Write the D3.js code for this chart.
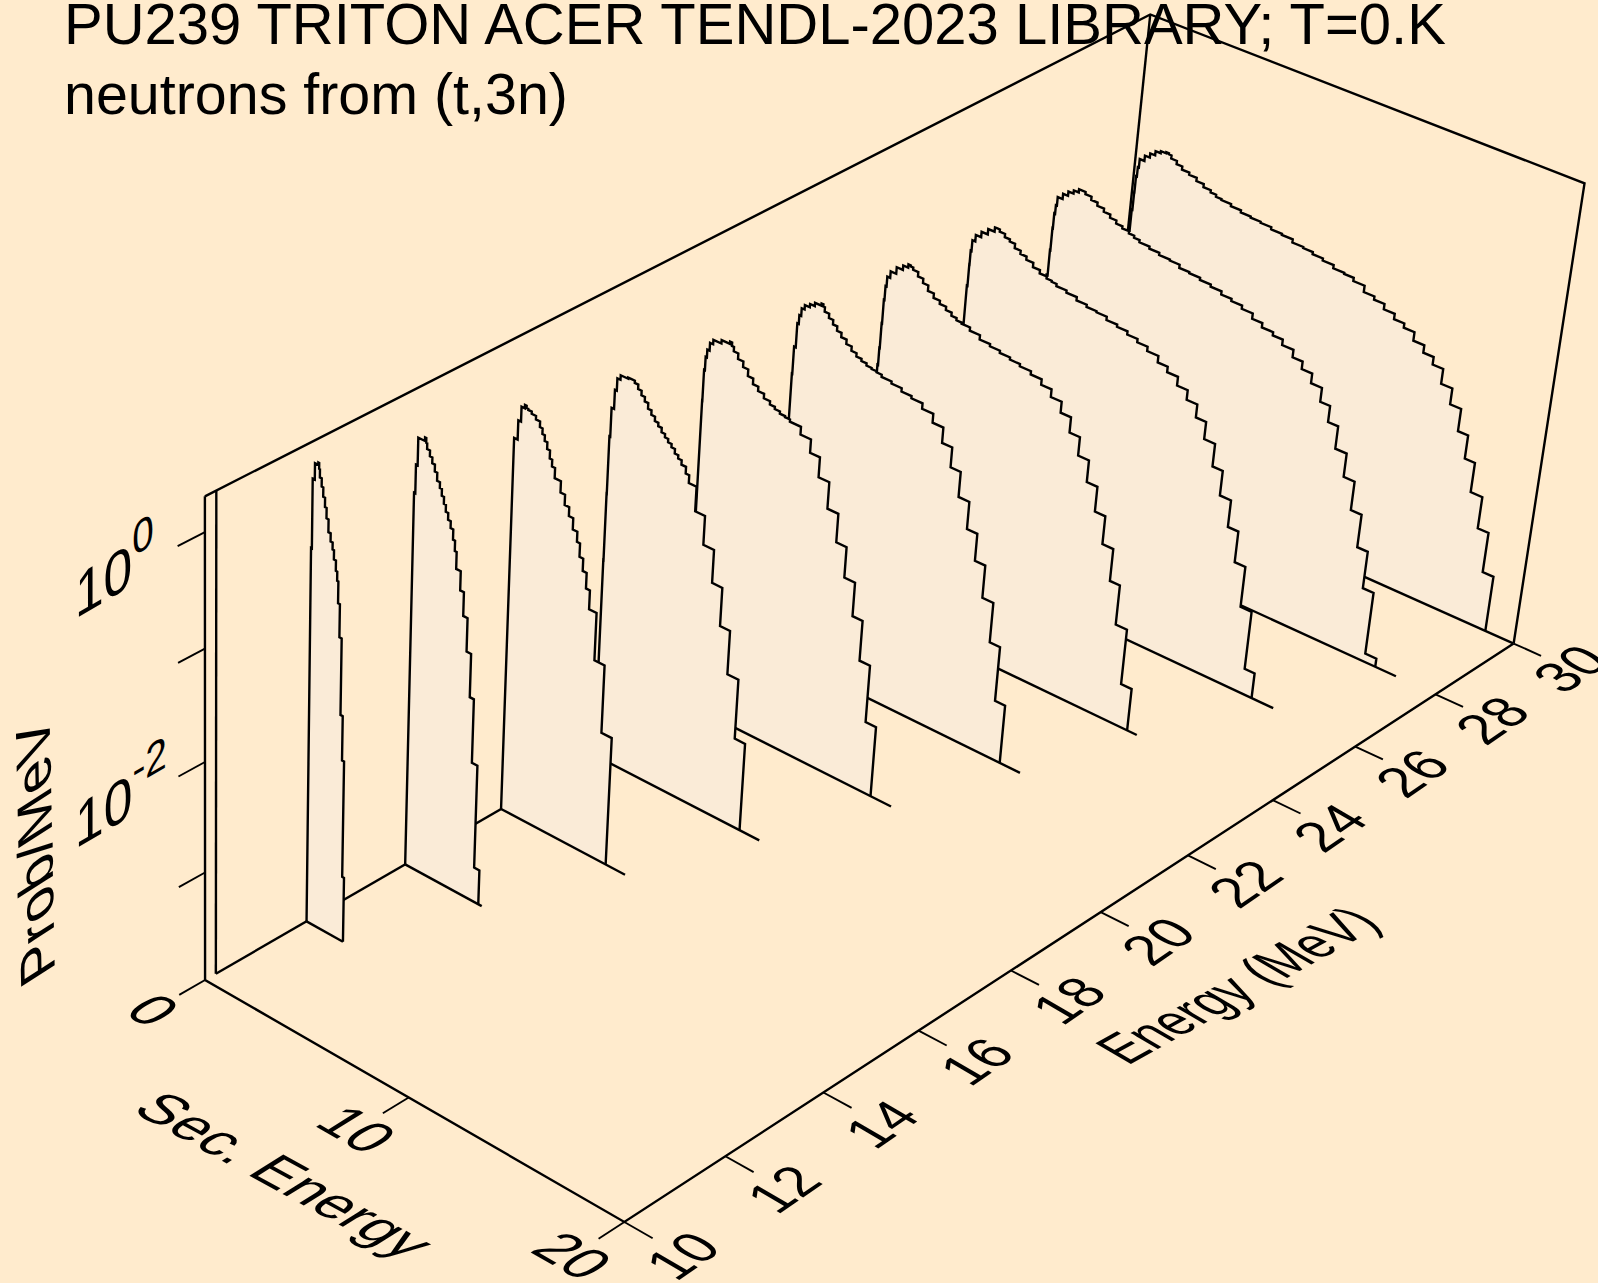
<!DOCTYPE html>
<html><head><meta charset="utf-8"><script src="https://cdn.jsdelivr.net/npm/d3@7"></script>
<style>html,body{margin:0;padding:0;background:#FFEBCD}svg{display:block}</style></head><body>
<script>
// Incident energies and tick labels
const energies=[12,14,16,18,20,22,24,26,28,30];
const eTicks=[10,12,14,16,18,20,22,24,26,28,30];
const esTicks=[0,10,20];
const zTicks=[1,0.1,0.01,0.001];
const zLabels=[[1,'0'],[0.01,'-2']];
// Spectra: upper bin edge of secondary energy (MeV), log10(Prob/MeV)
const es12=[0.00,0.00,0.00,0.04,0.14,0.30,0.34,0.38,0.47,0.55,0.64,0.72,0.82,0.93,1.03,1.10,1.20,1.27,1.33,1.42,1.53,1.64,1.74,1.83];
const lp12=[-3.12,-1.92,-1.24,-0.61,-0.01,0.13,0.15,0.10,0.03,-0.04,-0.12,-0.20,-0.29,-0.40,-0.47,-0.53,-0.61,-0.70,-0.78,-0.97,-1.26,-1.94,-2.34,-3.40];
const es14=[0.00,0.00,0.00,0.00,0.06,0.14,0.46,0.52,0.57,0.71,0.83,0.96,1.08,1.22,1.32,1.43,1.53,1.65,1.78,1.91,2.01,2.10,2.32,2.50,2.71,2.93,3.13,3.40,3.66];
const lp14=[-3.16,-2.40,-1.68,-0.97,-0.60,-0.35,-0.11,-0.08,-0.12,-0.17,-0.22,-0.27,-0.33,-0.40,-0.45,-0.51,-0.57,-0.63,-0.69,-0.75,-0.84,-0.93,-1.08,-1.25,-1.46,-1.76,-2.15,-2.73,-3.68];
const es16=[0.00,0.00,0.00,0.00,0.17,0.30,0.46,0.54,0.62,0.79,1.00,1.20,1.33,1.45,1.58,1.72,1.84,1.99,2.29,2.51,2.73,2.94,3.16,3.31,3.49,3.68,3.87,4.23,4.72,5.22];
const lp16=[-3.22,-2.45,-1.83,-1.23,-0.58,-0.41,-0.28,-0.25,-0.27,-0.28,-0.30,-0.33,-0.38,-0.43,-0.48,-0.54,-0.61,-0.67,-0.76,-0.86,-0.95,-1.03,-1.13,-1.22,-1.34,-1.45,-1.59,-1.76,-2.19,-2.81];
const es18=[0.00,0.00,0.01,0.02,0.06,0.18,0.27,0.42,0.78,0.94,1.10,1.27,1.44,1.61,1.78,1.95,2.13,2.30,2.47,2.64,2.80,2.97,3.14,3.31,3.48,3.70,3.87,4.24,4.71,5.22,5.71,6.19,6.72,7.22];
const lp18=[-3.41,-3.03,-2.15,-1.54,-1.02,-0.76,-0.59,-0.48,-0.44,-0.43,-0.43,-0.45,-0.49,-0.53,-0.57,-0.62,-0.66,-0.70,-0.73,-0.77,-0.80,-0.83,-0.86,-0.90,-0.93,-0.97,-1.03,-1.10,-1.32,-1.58,-1.88,-2.23,-2.63,-3.18];
const es20=[0.00,0.00,0.00,0.01,0.05,0.11,0.22,0.37,0.76,1.16,1.26,1.36,1.58,1.84,2.09,2.35,2.61,2.90,3.20,3.44,3.69,3.94,4.18,4.71,5.21,5.68,6.19,6.71,7.20,7.71,8.19,8.69,9.19];
const lp20=[-2.60,-1.94,-1.49,-1.15,-0.87,-0.75,-0.68,-0.61,-0.57,-0.54,-0.52,-0.55,-0.59,-0.64,-0.69,-0.75,-0.80,-0.84,-0.88,-0.91,-0.93,-0.95,-0.96,-0.98,-1.05,-1.17,-1.35,-1.59,-1.85,-2.13,-2.44,-2.81,-3.34];
const es22=[0.00,0.02,0.10,0.17,0.26,0.40,0.64,0.87,1.18,1.27,1.35,1.57,1.78,1.99,2.21,2.47,2.73,2.98,3.23,3.48,3.73,3.97,4.22,4.70,5.19,5.67,6.20,6.73,7.24,7.72,8.20,8.71,9.20,9.69,10.21,10.70,11.18];
const lp22=[-1.59,-1.35,-1.10,-0.88,-0.80,-0.73,-0.69,-0.66,-0.63,-0.61,-0.63,-0.67,-0.71,-0.75,-0.79,-0.83,-0.87,-0.91,-0.94,-0.96,-0.98,-0.99,-1.00,-1.02,-1.04,-1.07,-1.09,-1.14,-1.22,-1.36,-1.54,-1.77,-2.02,-2.27,-2.57,-2.94,-3.45];
const es24=[0.03,0.05,0.07,0.10,0.15,0.29,0.56,0.86,1.10,1.22,1.34,1.59,1.85,2.11,2.40,2.71,3.02,3.30,3.55,3.80,4.21,4.70,5.20,5.68,6.17,6.65,7.18,7.70,8.19,8.70,9.19,9.68,10.19,10.69,11.18,11.69,12.16,12.69,13.19];
const lp24=[-1.71,-1.55,-1.32,-1.10,-0.97,-0.88,-0.82,-0.76,-0.72,-0.69,-0.70,-0.72,-0.76,-0.80,-0.85,-0.89,-0.92,-0.95,-0.98,-1.00,-1.01,-1.04,-1.08,-1.10,-1.12,-1.14,-1.16,-1.19,-1.24,-1.31,-1.41,-1.55,-1.72,-1.92,-2.15,-2.41,-2.71,-3.08,-3.60];
const es26=[0.04,0.04,0.07,0.08,0.12,0.26,0.52,0.82,1.13,1.25,1.37,1.63,1.88,2.14,2.43,2.73,3.07,3.41,3.75,4.00,4.24,4.73,5.23,5.72,6.20,6.69,7.20,7.70,8.19,8.68,9.21,9.68,10.19,10.69,11.19,11.67,12.18,12.66,13.18,13.67,14.17,14.69,15.16];
const lp26=[-1.76,-1.60,-1.40,-1.20,-1.07,-0.97,-0.91,-0.86,-0.81,-0.77,-0.77,-0.79,-0.82,-0.84,-0.88,-0.91,-0.94,-0.98,-1.01,-1.03,-1.04,-1.06,-1.08,-1.11,-1.13,-1.14,-1.17,-1.19,-1.22,-1.25,-1.29,-1.35,-1.40,-1.48,-1.57,-1.69,-1.85,-2.06,-2.29,-2.54,-2.83,-3.21,-3.76];
const es28=[0.05,0.07,0.09,0.13,0.18,0.42,0.66,0.91,1.15,1.31,1.47,1.77,2.08,2.41,2.73,3.04,3.35,3.68,3.94,4.21,4.70,5.18,5.70,6.17,6.65,7.17,7.69,8.21,8.70,9.21,9.73,10.21,10.74,11.21,11.74,12.21,12.70,13.21,13.67,14.14,14.67,15.18,15.68,16.17,16.67,17.19];
const lp28=[-1.73,-1.49,-1.28,-1.14,-1.06,-0.98,-0.93,-0.89,-0.86,-0.83,-0.83,-0.85,-0.88,-0.91,-0.94,-0.97,-1.00,-1.02,-1.04,-1.06,-1.08,-1.10,-1.12,-1.13,-1.16,-1.17,-1.19,-1.21,-1.24,-1.26,-1.29,-1.34,-1.38,-1.41,-1.46,-1.53,-1.60,-1.69,-1.82,-1.97,-2.18,-2.40,-2.67,-2.98,-3.33,-3.92];
const es30=[0.08,0.11,0.12,0.16,0.21,0.44,0.68,0.92,1.17,1.43,1.56,1.69,1.97,2.25,2.61,2.98,3.34,3.70,3.97,4.24,4.71,5.20,5.68,6.16,6.68,7.20,7.72,8.24,8.70,9.19,9.71,10.23,10.68,11.21,11.71,12.20,12.71,13.19,13.69,14.20,14.68,15.17,15.69,16.20,16.67,17.14,17.68,18.18,18.68];
const lp30=[-1.72,-1.52,-1.35,-1.20,-1.11,-1.03,-0.98,-0.94,-0.90,-0.88,-0.87,-0.88,-0.91,-0.94,-0.97,-0.99,-1.02,-1.05,-1.07,-1.09,-1.10,-1.12,-1.14,-1.15,-1.16,-1.18,-1.19,-1.22,-1.23,-1.25,-1.27,-1.30,-1.31,-1.34,-1.40,-1.43,-1.48,-1.53,-1.57,-1.65,-1.72,-1.79,-1.93,-2.08,-2.29,-2.51,-2.79,-3.09,-3.47];
const tailEs=[1.83,3.83,6.17,8.18,10.18,12.15,13.65,16.18,18.16,19.98];
const esList=[es12,es14,es16,es18,es20,es22,es24,es26,es28,es30];
const lpList=[lp12,lp14,lp16,lp18,lp20,lp22,lp24,lp26,lp28,lp30];
const thresholdE=10.21;
const pMin=1e-4,pMax=2;

const uS=d3.scaleLinear([10,30],[0,1]),vS=d3.scaleLinear([0,20],[0,1]),wS=d3.scaleLog([pMin,pMax],[0,1]);
// Perspective of the 3D box: known box positions fitted to a projective camera
const cal=[[10,0,pMin,205.5,980],[10,20,pMin,623.7,1221],[30,20,pMin,1514,644],[30,0,pMin,1103.5,459.6],[12,20,pMin,725.6,1156.7],[14,20,pMin,823.7,1092.7],[16,20,pMin,918.8,1030.7],[18,20,pMin,1010.6,971],[20,20,pMin,1100.8,912.7],[22,20,pMin,1187.8,855.7],[24,20,pMin,1274,799],[26,20,pMin,1355,746],[28,20,pMin,1435,695],[10,10,pMin,408.7,1096.6],[12,0,pMin,306.5,921],[14,0,pMin,405,865],[16,0,pMin,501,809],[10,0,pMax,204.5,495.5],[30,0,pMax,1151,15],[30,20,pMax,1584,183],[10,0,1e-3,205,873],[10,0,1e-2,205,762.5],[10,0,1e-1,205,649],[10,0,1,205,532]];
function solve(A,b){const n=b.length,M=A.map((r,i)=>[...r,b[i]]);for(let c=0;c<n;c++){let p=c;for(let r=c+1;r<n;r++)if(Math.abs(M[r][c])>Math.abs(M[p][c]))p=r;[M[c],M[p]]=[M[p],M[c]];for(let r=0;r<n;r++){if(r===c)continue;const f=M[r][c]/M[c][c];for(let k=c;k<=n;k++)M[r][k]-=f*M[c][k];}}return M.map((r,i)=>r[n]/r[i]);}
const rows=[],rhs=[];cal.forEach(([E,s,P,X,Y])=>{const u=uS(E),v=vS(s),w=wS(P),x=X/1000,y=Y/1000;rows.push([u,v,w,1,0,0,0,0,-u*x,-v*x,-w*x]);rhs.push(x);rows.push([0,0,0,0,u,v,w,1,-u*y,-v*y,-w*y]);rhs.push(y);});
const ATA=d3.range(11).map(i=>d3.range(11).map(j=>d3.sum(rows,r=>r[i]*r[j])));const ATb=d3.range(11).map(i=>d3.sum(rows,(r,k)=>r[i]*rhs[k]));
const C=solve(ATA,ATb);
function proj(E,s,P){const u=uS(E),v=vS(s),w=wS(P),q=C[8]*u+C[9]*v+C[10]*w+1;return [1000*(C[0]*u+C[1]*v+C[2]*w+C[3])/q,1000*(C[4]*u+C[5]*v+C[6]*w+C[7])/q];}

const ink='#000',bg='#FFEBCD',fillC='#FAEBD7';
const svg=d3.select('body').append('svg').attr('width',1598).attr('height',1283);
svg.append('rect').attr('width',1598).attr('height',1283).attr('fill',bg);
const line=d3.line();
const seg=(pts,w=2.4)=>svg.append('path').attr('d',line(pts)).attr('fill','none').attr('stroke',ink).attr('stroke-width',w).attr('stroke-linejoin','miter');
// back frame
seg([proj(10,0,pMax),proj(30,0,pMax),proj(30,20,pMax),proj(30,20,pMin)]);
seg([proj(30,0,pMax),proj(30,0,pMin)]);
seg([proj(thresholdE,0,pMin),proj(30,0,pMin)]);
// spectra, back to front
d3.range(energies.length-1,-1,-1).forEach(i=>{
 const E=energies[i],es=esList[i],lp=lpList[i];
 const poly=[proj(E,0,pMin)];let prev=0;
 es.forEach((s,k)=>{const P=Math.pow(10,lp[k]);poly.push(proj(E,prev,P));poly.push(proj(E,s,P));prev=s;});
 poly.push(proj(E,prev,pMin));
 svg.append('path').attr('d',line(poly)+'Z').attr('fill',fillC);
 seg(poly);
 seg([proj(E,0,pMin),proj(E,tailEs[i],pMin)]);
});
seg([proj(thresholdE,0,pMin),proj(thresholdE,0,pMax)]);
seg([proj(10,0,pMax),proj(10,0,pMin),proj(10,20,pMin),proj(30,20,pMin)]);
eTicks.forEach(E=>seg([proj(E,20,pMin),proj(E,21.27,pMin)],1.9));
esTicks.forEach(s=>seg([proj(10,s,pMin),proj(9.5,s,pMin)],1.9));
zTicks.forEach(P=>seg([proj(10,0,P),proj(9.5,0,P)],1.9));
const font='"Liberation Sans",Arial,sans-serif';
function t3(str,x,y,u,d,size,anchor='middle',dy='0.35em'){return svg.append('text').attr('transform',`matrix(${u[0]},${u[1]},${d[0]},${d[1]},${x},${y})`).attr('font-family',font).attr('font-size',size).attr('text-anchor',anchor).attr('dy',dy).attr('fill',ink).text(str);}
const eU=[.74,-.51],eD=[.86,.5],sU=[.82,.47],sD=[-.85,.53];
eTicks.forEach(E=>{const p=proj(E,22.6,pMin);t3(String(E),p[0],p[1],eU,eD,58);});
esTicks.forEach(s=>{const p=proj(9,s,pMin);t3(String(s),p[0],p[1],sU,sD,59);});
t3('Sec. Energy',285,1175,[.87,.475],sD,58);
t3('Energy (MeV)',1237,985,[.69,-.38],eD,60);
t3('Prob/MeV',54.7,970,[-.02,-1],[.84,-.54],58,'start','0');
zLabels.forEach(([P,e])=>{const p=proj(10,0,P);const tx=t3('',p[0]-130,p[1]+87,[.86,-.5],[0,1.03],60,'start','0');tx.append('tspan').text('10');tx.append('tspan').attr('font-size',45).attr('dy',-28).text(e);});
svg.append('text').attr('x',64).attr('y',44).attr('font-family',font).attr('font-size',58).attr('fill',ink).text('PU239 TRITON ACER TENDL-2023 LIBRARY; T=0.K');
svg.append('text').attr('x',64).attr('y',114).attr('font-family',font).attr('font-size',57.4).attr('fill',ink).text('neutrons from (t,3n)');
</script></body></html>
